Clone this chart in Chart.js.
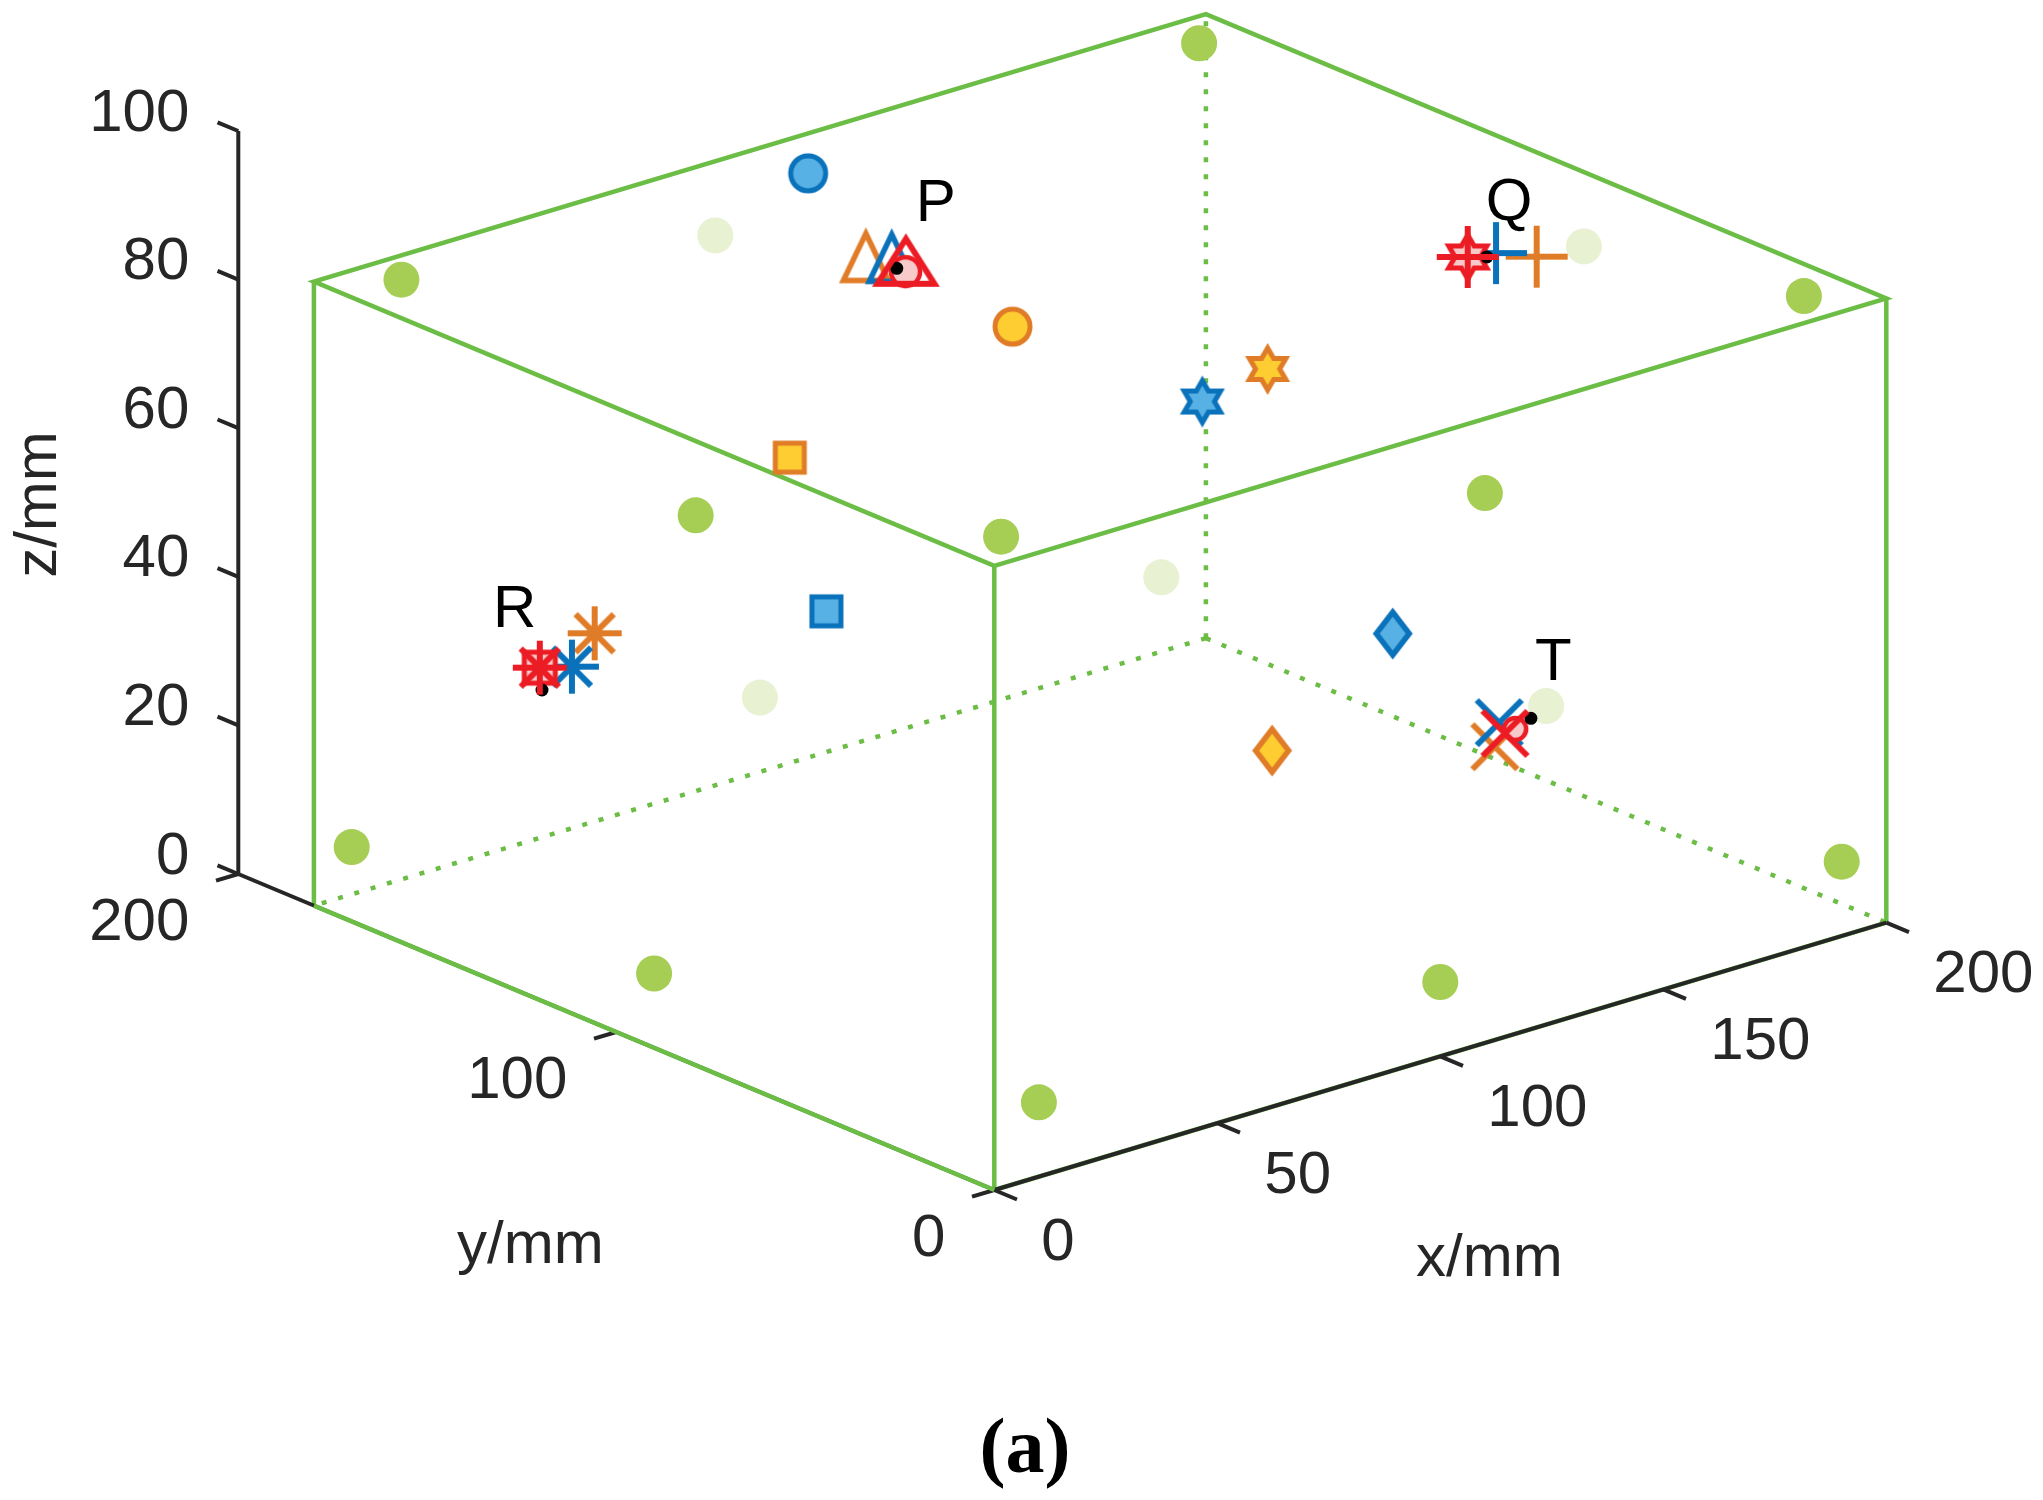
<!DOCTYPE html>
<html>
<head>
<meta charset="utf-8">
<title>Source localisation in the specimen</title>
<script src="https://cdn.jsdelivr.net/npm/chart.js@4.4.1/dist/chart.umd.min.js"></script>
<style>
  html, body { margin: 0; padding: 0; background: #fff; }
  #wrap { width: 2043px; height: 1500px; position: relative; }
</style>
</head>
<body>
<div id="wrap"><canvas id="chart"></canvas></div>
<script>
// axes
const xTicks = [0, 50, 100, 150, 200];
const yTicks = [0, 100, 200];
const zTicks = [0, 20, 40, 60, 80, 100];
const axisTitles = ['x/mm', 'y/mm', 'z/mm'];
const boxDims = [200, 180, 84];

// sensors (mm), front ones and the faded rear ones
const sensorX = [12, 190, 190, 10, 0, 110, 0, 0, 10, 100, 190];
const sensorY = [171, 170, 10, 10, 79, 0, 170, 90, 0, 0, 0];
const sensorZ = [84, 84, 84, 84, 74, 74, 10, 10, 10, 10, 10];
const rearX = [90, 200, 190, 100, 200];
const rearY = [180, 80, 180, 180, 90];
const rearZ = [74, 74, 10, 10, 10];

// true source points
const sourceNames = ['P', 'Q', 'R', 'T'];
const trueX = [89.5, 170.1, 27.5, 171.0];
const trueY = [131.4, 70.4, 152.1, 59.8];
const trueZ = [80, 80, 30, 20];

// located points, one marker shape per source
const markerShapes = ['triangle', 'plus', 'asterisk', 'cross', 'circle', 'square', 'hexagram', 'diamond'];
const orangeX = [89.0, 176.7, 52.1, 157.4, 109.6, 62.8, 152.9, 103.9];
const orangeY = [139.0, 65.0, 167.2, 53.3, 124.5, 128.2, 108.1, 49.1];
const orangeZ = [80, 80, 30, 20, 70, 60, 60, 30];
const blueX = [92.1, 172.5, 38.7, 165.5, 107.6, 54.4, 134.2, 156.2];
const blueY = [135.8, 70.8, 157.4, 61.7, 176.2, 108.6, 103.3, 78.9];
const blueZ = [80, 80, 30, 20, 80, 45, 60, 30];
const redX = [92.9, 167.6, 34.2, 162.9];
const redY = [133.0, 72.5, 160.6, 57.1];
const redZ = [80, 80, 30, 20];
const pinkShapes = ['circle', 'hexagram', 'square', 'circle'];
const pinkX = [89.6, 167.6, 34.2, 165.6];
const pinkY = [129.2, 72.5, 160.6, 57.6];
const pinkZ = [80, 80, 30, 20];

// view of the 3D box on the page
const view = { ox: 994.3, oy: 1190, ex: [4.46, -1.337], ey: [-3.78, -1.58], ez: [0, -7.43] };
function project(x, y, z) {
    return {
        x: view.ox + x * view.ex[0] + y * view.ey[0] + z * view.ez[0],
        y: view.oy + x * view.ex[1] + y * view.ey[1] + z * view.ez[1]
    };
}
function points(xs, ys, zs) {
    return xs.map((v, i) => project(v, ys[i], zs[i]));
}

const markerSize = {
    circle: { w: 35, h: 35, lw: 5 },
    square: { w: 29, h: 29, lw: 5 },
    triangle: { w: 45, h: 47, lw: 5.5 },
    plus: { w: 62, h: 62, lw: 6 },
    asterisk: { w: 54, h: 54, lw: 6 },
    cross: { w: 45, h: 45, lw: 6 },
    hexagram: { w: 42, h: 42, lw: 5 },
    diamond: { w: 33, h: 43, lw: 5.5 }
};
const openShapes = ['triangle', 'plus', 'asterisk', 'cross'];

function makeMarker(shape, edge, fill, size) {
    const pad = Math.ceil(size.lw * 3) + 2;
    const c = document.createElement('canvas');
    c.width = Math.ceil(size.w + 2 * pad);
    c.height = Math.ceil(size.h + 2 * pad);
    const g = c.getContext('2d');
    g.translate(c.width / 2, c.height / 2);
    g.lineWidth = size.lw;
    g.strokeStyle = edge;
    g.lineJoin = 'miter';
    const hw = size.w / 2, hh = size.h / 2;
    g.beginPath();
    switch (shape) {
        case 'circle':
            g.arc(0, 0, hw, 0, Math.PI * 2);
            break;
        case 'square':
            g.rect(-hw, -hh, size.w, size.h);
            break;
        case 'diamond':
            g.moveTo(0, -hh); g.lineTo(hw, 0); g.lineTo(0, hh); g.lineTo(-hw, 0); g.closePath();
            break;
        case 'triangle':
            g.moveTo(0, -hh); g.lineTo(hw, hh); g.lineTo(-hw, hh); g.closePath();
            break;
        case 'hexagram':
            for (let k = 0; k < 12; k++) {
                const r = k % 2 ? hh / Math.sqrt(3) : hh;
                const a = -Math.PI / 2 + k * Math.PI / 6;
                if (k === 0) g.moveTo(r * Math.cos(a), r * Math.sin(a));
                else g.lineTo(r * Math.cos(a), r * Math.sin(a));
            }
            g.closePath();
            break;
        case 'plus':
            g.moveTo(-hw, 0); g.lineTo(hw, 0); g.moveTo(0, -hh); g.lineTo(0, hh);
            break;
        case 'cross':
            g.moveTo(-hw, -hh); g.lineTo(hw, hh); g.moveTo(hw, -hh); g.lineTo(-hw, hh);
            break;
        case 'asterisk': {
            const d = hw * Math.SQRT1_2;
            g.moveTo(-hw, 0); g.lineTo(hw, 0); g.moveTo(0, -hh); g.lineTo(0, hh);
            g.moveTo(-d, -d); g.lineTo(d, d); g.moveTo(d, -d); g.lineTo(-d, d);
            break;
        }
    }
    if (fill && openShapes.indexOf(shape) < 0) {
        g.fillStyle = fill;
        g.fill();
    }
    g.stroke();
    return c;
}

const colors = {
    orange: '#e07c27', gold: '#fecd31',
    blue: '#0a71bb', lightBlue: '#58b1e4',
    red: '#ec1c24', pink: '#f8c9c9',
    sensor: '#a6ce55', sensorRear: '#e8f1d2',
    box: '#6cbd45', axis: '#262626'
};

const orangeStyles = markerShapes.map(s => makeMarker(s, colors.orange, colors.gold, markerSize[s]));
const blueStyles = markerShapes.map(s => makeMarker(s, colors.blue, colors.lightBlue, markerSize[s]));
const redStyles = markerShapes.slice(0, 4).map(s =>
    makeMarker(s, colors.red, null, s === 'triangle' ? { w: 57, h: 45, lw: 6 } : markerSize[s]));
const pinkSize = { circle: { w: 29, h: 29, lw: 4.5 }, hexagram: { w: 44, h: 44, lw: 5 }, square: { w: 31, h: 31, lw: 5 } };
const pinkStyles = pinkShapes.map((s, i) =>
    makeMarker(s, colors.red, colors.pink, i === 3 ? { w: 22, h: 22, lw: 4.5 } : pinkSize[s]));

const labelNudge = { P: [19, -47], Q: [-1, -37], R: [-49, -63], T: [4, -38] };
const tickFont = '60px "Liberation Sans", Arial, sans-serif';

const frame3d = {
    id: 'frame3d',
    beforeDatasetsDraw(chart) {
        const ctx = chart.ctx;
        const sx = chart.scales.x, sy = chart.scales.y;
        const px = (x, y, z) => {
            const p = project(x, y, z);
            return [sx.getPixelForValue(p.x), sy.getPixelForValue(p.y)];
        };
        const seg = (a, b) => {
            const p = px(...a), q = px(...b);
            ctx.beginPath();
            ctx.moveTo(p[0], p[1]);
            ctx.lineTo(q[0], q[1]);
            ctx.stroke();
        };
        const [bx, by, bz] = boxDims;
        const xMax = xTicks[xTicks.length - 1];
        const yMax = yTicks[yTicks.length - 1];
        const zMax = zTicks[zTicks.length - 1];

        ctx.save();
        // hidden box edges
        ctx.strokeStyle = colors.box;
        ctx.lineWidth = 4.5;
        ctx.setLineDash([5, 12]);
        seg([bx, by, 0], [0, by, 0]);
        seg([bx, by, 0], [bx, 0, 0]);
        seg([bx, by, 0], [bx, by, bz]);
        ctx.setLineDash([]);

        // visible box edges
        ctx.beginPath();
        [[0, 0, bz], [bx, 0, bz], [bx, by, bz], [0, by, bz]].forEach((c, i) => {
            const p = px(...c);
            if (i === 0) ctx.moveTo(p[0], p[1]); else ctx.lineTo(p[0], p[1]);
        });
        ctx.closePath();
        ctx.stroke();
        seg([0, 0, 0], [0, 0, bz]);
        seg([bx, 0, 0], [bx, 0, bz]);
        seg([0, by, 0], [0, by, bz]);
        seg([0, 0, 0], [bx, 0, 0]);

        // axes
        ctx.strokeStyle = colors.axis;
        ctx.lineWidth = 4;
        seg([0, 0, 0], [xMax, 0, 0]);
        seg([0, 0, 0], [0, yMax, 0]);
        seg([0, yMax, 0], [0, yMax, zMax]);
        xTicks.forEach(t => seg([t, 0, 0], [t, -6, 0]));
        yTicks.forEach(t => seg([0, t, 0], [-5, t, 0]));
        zTicks.forEach(t => seg([0, yMax, t], [0, yMax + 5.5, t]));

        ctx.strokeStyle = colors.box;
        ctx.lineWidth = 4.5;
        seg([0, 0, 0], [0, by, 0]);

        // tick labels
        ctx.fillStyle = colors.axis;
        ctx.font = tickFont;
        ctx.textBaseline = 'middle';
        ctx.textAlign = 'left';
        xTicks.forEach(t => { const p = px(t, 0, 0); ctx.fillText(String(t), p[0] + 47, p[1] + 53); });
        ctx.textAlign = 'right';
        yTicks.forEach(t => { const p = px(0, t, 0); ctx.fillText(String(t), p[0] - 49, p[1] + 49); });
        zTicks.forEach(t => { const p = px(0, yMax, t); ctx.fillText(String(t), p[0] - 49, p[1] - 17); });

        // axis titles
        ctx.textBaseline = 'alphabetic';
        ctx.textAlign = 'center';
        let p = px(xMax / 2, 0, 0);
        ctx.fillText(axisTitles[0], p[0] + 49, p[1] + 220);
        p = px(0, yMax / 2, 0);
        ctx.fillText(axisTitles[1], p[0] - 86, p[1] + 231);
        p = px(0, yMax, zMax / 2);
        ctx.save();
        ctx.translate(p[0] - 182.5, p[1] + 2);
        ctx.rotate(-Math.PI / 2);
        ctx.fillText(axisTitles[2], 0, 0);
        ctx.restore();

        // caption
        ctx.fillStyle = '#000';
        ctx.font = 'bold 78px "Liberation Serif", "Times New Roman", serif';
        ctx.fillText('(a)', 1025, 1472);
        ctx.restore();
    },
    afterDatasetsDraw(chart) {
        const ctx = chart.ctx;
        const sx = chart.scales.x, sy = chart.scales.y;
        ctx.save();
        ctx.fillStyle = '#000';
        ctx.font = tickFont;
        ctx.textAlign = 'left';
        ctx.textBaseline = 'alphabetic';
        sourceNames.forEach((name, i) => {
            const p = project(trueX[i], trueY[i], trueZ[i]);
            const n = labelNudge[name];
            ctx.fillText(name, sx.getPixelForValue(p.x) + n[0], sy.getPixelForValue(p.y) + n[1]);
        });
        ctx.restore();
    }
};

new Chart(document.getElementById('chart'), {
    type: 'scatter',
    data: {
        datasets: [
            {
                label: 'Sensors',
                data: points(sensorX, sensorY, sensorZ),
                pointStyle: 'circle',
                pointRadius: 18,
                backgroundColor: colors.sensor,
                borderWidth: 0,
                order: 9
            },
            {
                label: 'Sensors (rear)',
                data: points(rearX, rearY, rearZ),
                pointStyle: 'circle',
                pointRadius: 18,
                backgroundColor: colors.sensorRear,
                borderWidth: 0,
                order: 10
            },
            {
                label: 'Method A',
                data: points(orangeX, orangeY, orangeZ),
                pointStyle: orangeStyles,
                pointRadius: 20,
                order: 7
            },
            {
                label: 'Method B',
                data: points(blueX, blueY, blueZ),
                pointStyle: blueStyles,
                pointRadius: 20,
                order: 6
            },
            {
                label: 'Method C (fill)',
                data: points(pinkX, pinkY, pinkZ),
                pointStyle: pinkStyles,
                pointRadius: 20,
                order: 5
            },
            {
                label: 'True position',
                data: points(trueX, trueY, trueZ),
                pointStyle: 'circle',
                pointRadius: 6.5,
                backgroundColor: '#000',
                borderWidth: 0,
                order: 4.5
            },
            {
                label: 'Method C',
                data: points(redX, redY, redZ),
                pointStyle: redStyles,
                pointRadius: 20,
                order: 4
            }
        ]
    },
    options: {
        responsive: true,
        maintainAspectRatio: false,
        animation: false,
        events: [],
        layout: { autoPadding: false, padding: 0 },
        plugins: { legend: { display: false }, tooltip: { enabled: false } },
        scales: {
            x: { type: 'linear', min: 0, max: 2043, display: false },
            y: { type: 'linear', min: 0, max: 1500, reverse: true, display: false }
        }
    },
    plugins: [frame3d]
});
</script>
</body>
</html>
